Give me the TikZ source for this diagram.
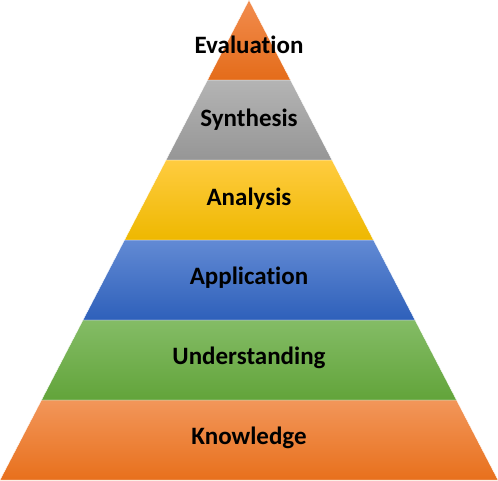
\documentclass[tikz,border=0pt]{standalone}
\usepackage{fontspec}
\setmainfont{Carlito}[Ligatures={NoCommon}]
\usepackage{tikz}
\definecolor{knowtop}{RGB}{242,150,90}
\definecolor{knowbot}{RGB}{232,112,28}
\definecolor{undtop}{RGB}{132,188,102}
\definecolor{undbot}{RGB}{98,164,58}
\definecolor{apptop}{RGB}{98,138,212}
\definecolor{appbot}{RGB}{46,96,186}
\definecolor{anatop}{RGB}{255,204,64}
\definecolor{anabot}{RGB}{238,184,0}
\definecolor{syntop}{RGB}{180,180,180}
\definecolor{synbot}{RGB}{150,150,150}
\definecolor{evatop}{RGB}{242,140,78}
\definecolor{evabot}{RGB}{228,108,26}

\begin{document}
\begin{tikzpicture}[x=1pt,y=1pt,
  band/.style={draw=white,line width=0.4pt},
  lbl/.style={font=\fontsize{25}{30}\selectfont\bfseries,text=black}]
  \useasboundingbox (0,0) rectangle (498,480);
  % pyramid bands, bottom to top
  \foreach \i/\ct/\cb in {0/knowtop/knowbot, 1/undtop/undbot,
      2/apptop/appbot, 3/anatop/anabot, 4/syntop/synbot, 5/evatop/evabot}
  {
    \pgfmathsetmacro{\ylo}{80*\i}
    \pgfmathsetmacro{\yhi}{80*(\i+1)}
    \pgfmathsetmacro{\xlo}{41.5*\i}
    \pgfmathsetmacro{\xhi}{41.5*(\i+1)}
    \shade[band,top color=\ct,bottom color=\cb]
      (\xlo,\ylo) -- (498-\xlo,\ylo) -- (498-\xhi,\yhi) -- (\xhi,\yhi) -- cycle;
  }
  % labels
  \node[lbl] (know) at (249,42) {Knowledge};
  \node[lbl] (und) at (249,122) {Understanding};
  \node[lbl] (app) at (249,202) {Application};
  \node[lbl] (ana) at (249,281) {Analysis};
  \node[lbl] (syn) at (249,360) {Synthesis};
  \node[lbl] (eva) at (249,435) {Evaluation};
\end{tikzpicture}
\end{document}
